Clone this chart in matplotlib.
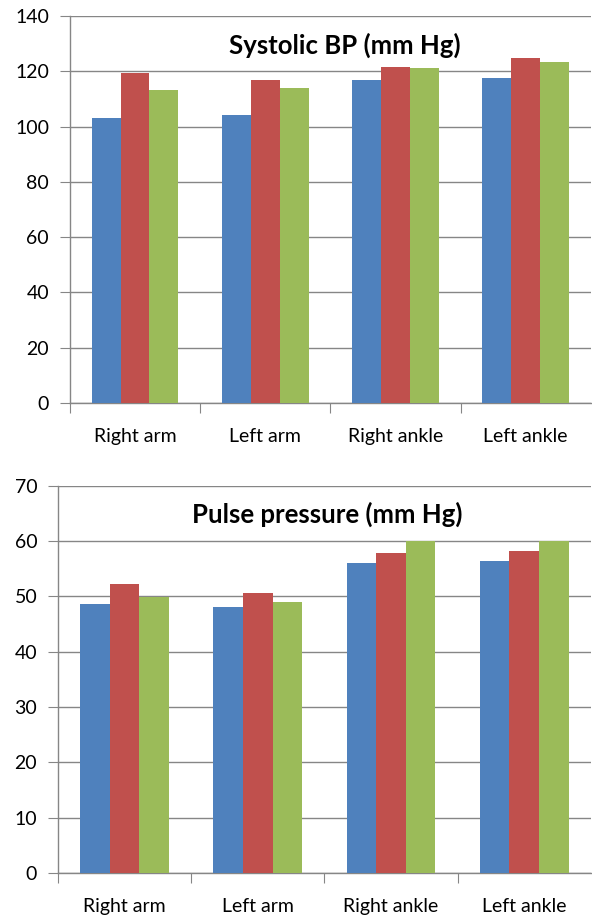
import numpy as np
import matplotlib.pyplot as plt

sitios = ['Right arm', 'Left arm', 'Right ankle', 'Left ankle']
cores = ['#4F81BD', '#C0504D', '#9BBB59']

# pressao sistolica (3 grupos por sitio)
sis_1 = [103.0, 104.2, 116.9, 117.5]
sis_2 = [119.3, 116.9, 121.7, 124.9]
sis_3 = [113.2, 114.1, 121.3, 123.4]

# pressao de pulso
pul_1 = [48.6, 48.0, 56.1, 56.4]
pul_2 = [52.3, 50.6, 57.9, 58.2]
pul_3 = [49.8, 49.0, 60.0, 60.0]

fig = plt.figure(figsize=(5.92, 9.17), dpi=100)
ax1 = fig.add_axes([0.118, 0.5605, 0.880, 0.4221])
ax2 = fig.add_axes([0.098, 0.0480, 0.900, 0.4223])

fonte = 'Lato'
cinza = '#868686'


def desenha(ax, series, titulo, ymax, passo, xt):
    x = np.arange(len(sitios))
    w = 0.222
    for i, s in enumerate(series):
        ax.bar(x + (i - 1) * w, s, w, color=cores[i], zorder=3)
    ax.set_xlim(-0.5, len(sitios) - 0.5)
    ax.set_ylim(0, ymax)
    ax.set_yticks(np.arange(0, ymax + 1, passo))
    ax.yaxis.grid(True, color=cinza, linewidth=1, zorder=0)
    ax.set_axisbelow(True)
    for lado in ['top', 'right']:
        ax.spines[lado].set_visible(False)
    for lado in ['left', 'bottom']:
        ax.spines[lado].set_color(cinza)
        ax.spines[lado].set_linewidth(1)
    # ticks nos limites das categorias, rotulos no centro
    ax.set_xticks(np.arange(-0.5, len(sitios) - 0.5, 1))
    ax.set_xticklabels([])
    ax.set_xticks(x, minor=True)
    ax.set_xticklabels(sitios, minor=True, fontsize=14, family=fonte)
    ax.tick_params(axis='x', which='major', length=7, color=cinza, direction='out')
    ax.tick_params(axis='x', which='minor', length=0, pad=18)
    ax.tick_params(axis='y', length=7, color=cinza, direction='out', pad=8, labelsize=14)
    for t in ax.get_yticklabels():
        t.set_family(fonte)
    ax.text(xt, 0.925, titulo, transform=ax.transAxes, ha='center', va='center',
            fontsize=18.5, fontweight='bold', family=fonte)


desenha(ax1, [sis_1, sis_2, sis_3], 'Systolic BP (mm Hg)', 140, 20, 0.528)
desenha(ax2, [pul_1, pul_2, pul_3], 'Pulse pressure (mm Hg)', 70, 10, 0.505)

plt.savefig('out.png', dpi=100)
